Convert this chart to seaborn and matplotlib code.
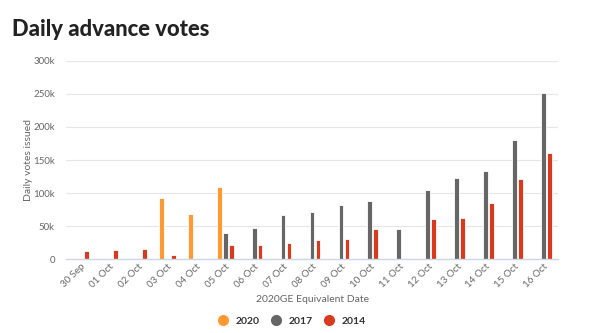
import numpy as np
import pandas as pd
import matplotlib
matplotlib.use("Agg")
import matplotlib.pyplot as plt
import seaborn as sns
from matplotlib.lines import Line2D
from matplotlib.ticker import FuncFormatter

dates = ["30 Sep", "01 Oct", "02 Oct", "03 Oct", "04 Oct", "05 Oct", "06 Oct", "07 Oct",
         "08 Oct", "09 Oct", "10 Oct", "11 Oct", "12 Oct", "13 Oct", "14 Oct", "15 Oct", "16 Oct"]
v2020 = [np.nan, np.nan, np.nan, 93, 68, 109, np.nan, np.nan, np.nan, np.nan, np.nan,
         np.nan, np.nan, np.nan, np.nan, np.nan, np.nan]
v2017 = [np.nan, np.nan, np.nan, np.nan, np.nan, 39, 47, 66, 72, 82, 88, 45, 104, 122, 133, 180, 252]
v2014 = [12, 13.5, 15.5, 6, np.nan, 21, 22, 24, 29, 31, 46, np.nan, 61, 62, 85, 121, 160]
years = ["2020", "2017", "2014"]
colors = ["#FF9933", "#666666", "#D9391C"]

rows = []
for yr, vals in zip(years, [v2020, v2017, v2014]):
    for d, v in zip(dates, vals):
        rows.append({"date": d, "year": yr, "votes": v * 1000})
df = pd.DataFrame(rows)

sns.set_theme(style="white")
plt.rcParams["font.family"] = ["Lato", "DejaVu Sans"]

fig = plt.figure(figsize=(6, 3.33), dpi=100)
ax = fig.add_axes([0.11, 0.222, 0.82, 0.595])

sns.barplot(data=df, x="date", y="votes", hue="year", order=dates, hue_order=years,
            palette=colors, width=0.62, gap=0.2, dodge=True, ax=ax,
            edgecolor="white", linewidth=0.6, saturation=1, legend=False)

ax.set_ylim(0, 300000)
ax.set_xlim(-0.5, len(dates) - 0.5)
ax.set_yticks(np.arange(0, 300001, 50000))
ax.yaxis.set_major_formatter(FuncFormatter(lambda v, p: "0" if v == 0 else f"{int(v/1000)}k"))
ax.grid(axis="y", color="#E6E6E6", linewidth=0.8)
ax.set_axisbelow(True)
for s in ["top", "right", "left"]:
    ax.spines[s].set_visible(False)
ax.spines["bottom"].set_color("#CCD6EB")
ax.spines["bottom"].set_linewidth(1)
ax.tick_params(axis="y", length=0, labelsize=7, labelcolor="#666666", pad=8)
ax.tick_params(axis="x", length=0, labelsize=7, labelcolor="#666666", pad=2)
plt.setp(ax.get_xticklabels(), rotation=45, ha="right", rotation_mode="anchor")
ax.set_xlabel("2020GE Equivalent Date", fontsize=7.5, color="#666666", labelpad=4)
ax.set_ylabel("Daily votes issued", fontsize=7.5, color="#666666", labelpad=0)

handles = [Line2D([0], [0], marker="o", linestyle="", markersize=7,
                  markerfacecolor=c, markeredgecolor=c, label=y) for y, c in zip(years, colors)]
leg = fig.legend(handles=handles, loc="center", bbox_to_anchor=(0.482, 0.035), ncol=3,
                 frameon=False, fontsize=7.5, handletextpad=0.2, columnspacing=0.6)
for t in leg.get_texts():
    t.set_fontweight("bold")
    t.set_color("#333333")

fig.text(0.02, 0.91, "Daily advance votes", fontsize=15.8, fontweight="black", color="#222222",
         ha="left", va="center")

fig.savefig("out.png", dpi=100)
